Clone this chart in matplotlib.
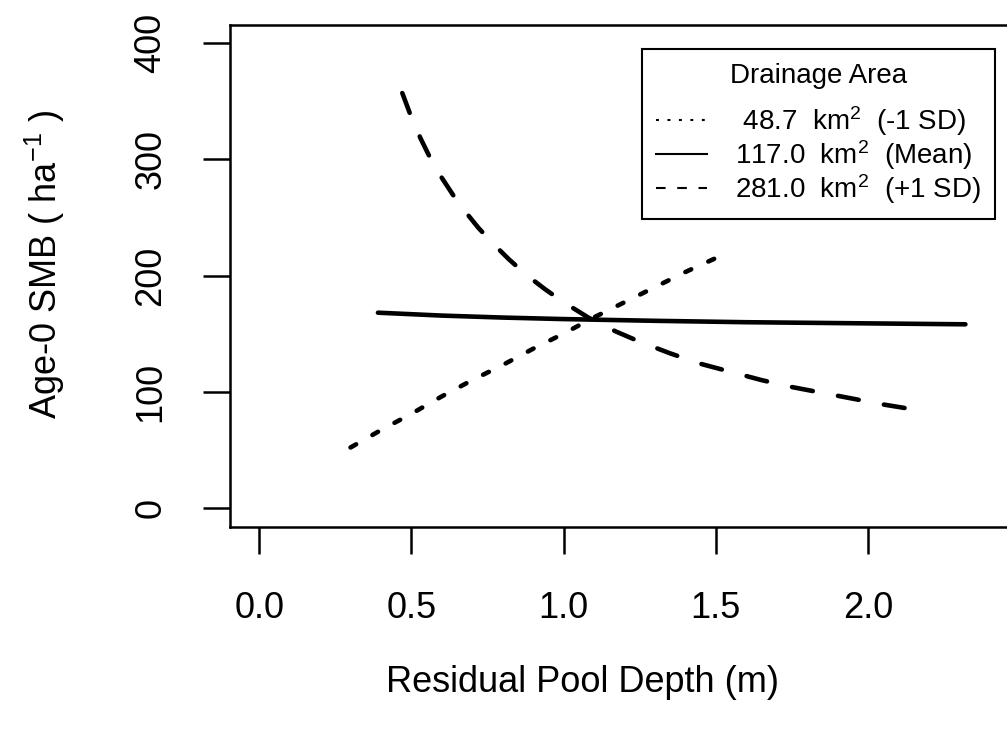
import matplotlib
matplotlib.use("Agg")
import matplotlib.pyplot as plt
from matplotlib import font_manager
from matplotlib.lines import Line2D

# Age-0 SMB vs residual pool depth for three drainage areas
depth_small = [0.30, 0.40, 0.50, 0.60, 0.70, 0.80, 0.90, 1.00, 1.10, 1.20, 1.30, 1.40, 1.50, 1.55]
smb_small = [52, 67, 81, 96, 110, 123, 137, 150, 164, 177, 190, 203, 215, 221]

depth_mean = [0.39, 0.60, 0.80, 1.00, 1.30, 1.60, 2.00, 2.32]
smb_mean = [168, 165.5, 163.8, 162.5, 161, 159.8, 158.8, 158]

depth_large = [0.47, 0.50, 0.53, 0.56, 0.60, 0.64, 0.68, 0.72, 0.77, 0.82, 0.88, 0.94, 1.00,
               1.08, 1.17, 1.25, 1.35, 1.45, 1.55, 1.65, 1.75, 1.85, 1.95, 2.05, 2.12]
smb_large = [357, 336, 318, 302, 284, 268, 254, 241, 227, 214, 200, 188, 177,
             164, 152, 143, 133, 124, 117, 110, 104, 99, 94, 89, 86]

legend_labels = [" 48.7  km$^2$  (-1 SD)", "117.0  km$^2$  (Mean)", "281.0  km$^2$  (+1 SD)"]
x_ticks = [0.0, 0.5, 1.0, 1.5, 2.0]
y_ticks = [0, 100, 200, 300, 400]

try:
    font_manager.findfont("Liberation Sans Narrow", fallback_to_default=False)
    axis_font, axis_size = "Liberation Sans Narrow", 31
except ValueError:
    axis_font, axis_size = "Liberation Sans", 26

plt.rcParams["font.family"] = ["Liberation Sans", "DejaVu Sans"]
plt.rcParams["mathtext.default"] = "regular"

fig = plt.figure(figsize=(10.07, 7.36), dpi=100)
ax = fig.add_axes([230 / 1007, 1 - 526.5 / 736, 789 / 1007, 502 / 736])

dot = (1.4, 4.1)
dash = (4.6, 5.6)
ax.plot(depth_small, smb_small, color="black", lw=3.3, dashes=dot, dash_capstyle="round")
ax.plot(depth_mean, smb_mean, color="black", lw=3.3, solid_capstyle="round")
ax.plot(depth_large, smb_large, color="black", lw=3.3, dashes=dash, dash_capstyle="round")

ax.set_xlim(-0.096, 2.496)
ax.set_ylim(-16, 416)
ax.set_xticks(x_ticks)
ax.set_xticklabels([f"{v:.1f}" for v in x_ticks], fontfamily=axis_font, fontsize=axis_size)
ax.set_yticks(y_ticks)
ax.set_yticklabels([str(v) for v in y_ticks], fontfamily=axis_font, fontsize=axis_size,
                   rotation=90, va="center")
ax.tick_params(direction="out", length=19.5, width=1.8)
ax.tick_params(axis="x", pad=27)
ax.tick_params(axis="y", pad=25)
for s in ax.spines.values():
    s.set_linewidth(1.8)

ax.set_xlabel("Residual Pool Depth (m)", fontfamily=axis_font, fontsize=axis_size, va="center")
ax.xaxis.set_label_coords(583 / 1007, 1 - 683 / 736, transform=fig.transFigure)

ax.set_ylabel("Age-0 SMB ( ha$^{-1}$ )", fontfamily=axis_font, fontsize=axis_size, va="center")
ax.yaxis.set_label_coords(45 / 1007, 1 - 264 / 736, transform=fig.transFigure)

handles = [
    Line2D([], [], color="black", lw=1.5, dashes=dot),
    Line2D([], [], color="black", lw=1.5),
    Line2D([], [], color="black", lw=1.5, dashes=dash),
]
leg = ax.legend(handles, legend_labels, title="Drainage Area", loc="upper right",
                bbox_to_anchor=(995 / 1007, 1 - 49 / 736), bbox_transform=fig.transFigure,
                borderaxespad=0, fontsize=20, title_fontsize=20, fancybox=False,
                framealpha=1, edgecolor="black", handlelength=1.85, handletextpad=1.0,
                labelspacing=0.0, borderpad=0.5)
leg.get_frame().set_linewidth(1.5)
leg._legend_box.sep = 11  # wider gap under the title, as in the original

fig.savefig("out.png", dpi=100)
